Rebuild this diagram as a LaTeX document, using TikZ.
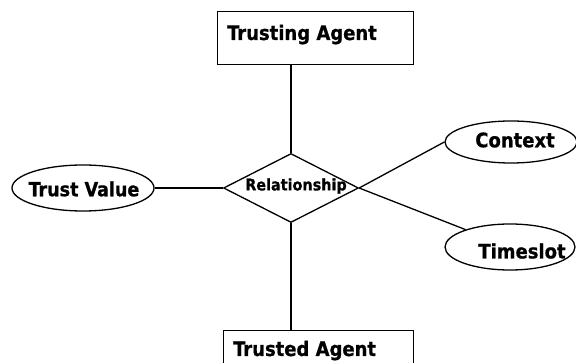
\documentclass[tikz,border=0pt]{standalone}
\usepackage{fontspec}
\setmainfont{DejaVu Sans Condensed}[BoldFont={DejaVu Sans Condensed Bold},BoldFeatures={FakeBold=0.8}]
\usetikzlibrary{shapes.geometric}
\begin{document}
\begin{tikzpicture}[x=1pt,y=-1pt,
  entity/.style={draw, line width=1.3pt, rectangle, inner sep=0pt, anchor=north west},
  attr/.style={draw, line width=1.3pt, ellipse, inner sep=0pt},
  rel/.style={draw, line width=1.3pt, diamond, inner sep=0pt, minimum width=135pt, minimum height=69pt},
  lbl/.style={font=\bfseries\fontsize{20}{20}\selectfont, inner sep=0pt},
  conn/.style={draw, line width=1.3pt}]
\useasboundingbox (0,0) rectangle (576,363);
\clip (0,0) rectangle (576,363);
% entities
\node[entity, minimum width=196pt, minimum height=53pt] (ta) at (217,11) {};
\node[lbl, anchor=base west] (tat) at (227,40) {Trusting Agent};
\node[entity, minimum width=190pt, minimum height=50pt] (td) at (223,330) {};
\node[lbl, anchor=base west] (tdt) at (233,356) {Trusted Agent};
% relationship
\node[rel] (r) at (291,188) {};
\node[lbl, font=\bfseries\fontsize{16}{16}\selectfont] (rt) at (296,186) {Relationship};
% attributes
\node[attr, minimum width=142pt, minimum height=46pt] (tv) at (83,188) {};
\node[lbl, font=\bfseries\fontsize{19.5}{19.5}\selectfont] (tvt) at (84,189) {Trust Value};
\node[attr, minimum width=132pt, minimum height=42pt] (cx) at (511,142) {};
\node[lbl] (cxt) at (515,140) {Context};
\node[attr, minimum width=130pt, minimum height=46pt] (ts) at (510,247) {};
\node[lbl] (tst) at (522,251) {Timeslot};
% connectors
\draw[conn] (r.north |- ta.south) -- (r.north);
\draw[conn] (r.south) -- (r.south |- td.north);
\draw[conn] (tv.east) -- (r.west);
\draw[conn] (r.east) -- (cx.west);
\draw[conn] (r.east) -- (ts);
\end{tikzpicture}
\end{document}
